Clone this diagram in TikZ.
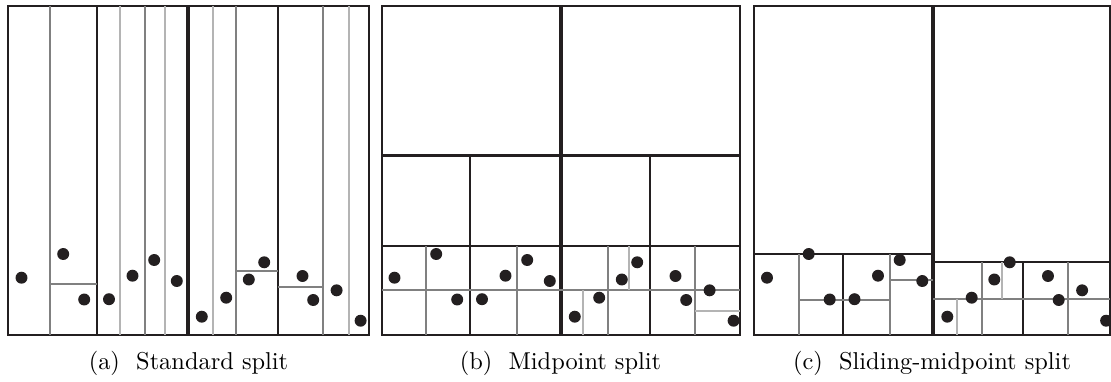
\documentclass[tikz,border=0pt]{standalone}
\usepackage{tikz}
\definecolor{cutblack}{RGB}{35,31,32}
\definecolor{cutgray}{RGB}{128,128,128}
\definecolor{cutlight}{RGB}{180,180,180}
\tikzset{
    cellbox/.style = {draw=cutblack, line width=0.9pt},
    rootcut/.style = {draw=cutblack, line width=1.7pt},
    midcut/.style = {draw=cutblack, line width=1.15pt},
    blackcut/.style = {draw=cutblack, line width=0.9pt},
    graycut/.style = {draw=cutgray, line width=0.85pt},
    lightcut/.style = {draw=cutlight, line width=0.85pt},
    datapt/.style = {fill=cutblack},
    subcap/.style = {anchor=base, inner sep=0pt, font=\normalsize},
}
% the same 15 points go into every panel
\newcommand{\datapoints}{%
  \foreach \px/\py in {21.5/277.7, 63.2/254, 84.2/299.5, 109/299.2, 132.5/275.7,
      154.2/260, 176.8/281, 201.8/316.7, 226.2/297.7, 248.8/279.5,
      264.2/262.3, 302.5/276, 313.2/300, 336.6/290.3, 360.6/320.7}
    \fill[datapt] (\px,\py) circle[radius=2.45pt];
}

\begin{document}
\begin{tikzpicture}[x=0.41pt, y=-0.41pt]
\useasboundingbox (0,0) rectangle (1111,381);
%
% (a) standard split
\draw[cellbox] (8,6) rectangle (369,335);
\draw[rootcut] (187.7,6) -- (187.7,335);
\draw[blackcut] (97.3,6) -- (97.3,335);
\draw[blackcut] (277.7,6) -- (277.7,335);
\foreach \cx in {50,145,236,323.3}
  \draw[graycut] (\cx,6) -- (\cx,335);
\foreach \cx in {120,165,212.7,348.7}
  \draw[lightcut] (\cx,6) -- (\cx,335);
\draw[graycut] (50,284) -- (97.3,284);
\draw[graycut] (236,270.7) -- (277.7,270.7);
\draw[graycut] (277.7,287.3) -- (323.3,287.3);
\datapoints
\node[subcap] (capa) at (188.5,369) {(a)\ \ Standard split};
%
% (b) midpoint split
\draw[cellbox] (382,6) rectangle (740,335);
\draw[rootcut] (561.3,6) -- (561.3,335);
\draw[midcut] (382,155.3) -- (740,155.3);
\draw[blackcut] (470,155.3) -- (470,335);
\draw[blackcut] (650,155.3) -- (650,335);
\draw[blackcut] (382,246) -- (740,246);
\draw[graycut] (382,290) -- (740,290);
\foreach \cx in {425.7,517,607.7,695.3}
  \draw[graycut] (\cx,246) -- (\cx,335);
\draw[lightcut] (583.3,290) -- (583.3,335);
\draw[lightcut] (629,246) -- (629,290);
\draw[lightcut] (695.3,311) -- (740,311);
\begin{scope}[shift={(373,0)}]
  \datapoints
\end{scope}
\node[subcap] (capb) at (560.5,369) {(b)\ \ Midpoint split};
%
% (c) sliding-midpoint split
\draw[cellbox] (754,6) rectangle (1110.3,335);
\draw[rootcut] (933.3,6) -- (933.3,335);
\draw[blackcut] (754,254.3) -- (933.3,254.3);
\draw[blackcut] (933.3,262.3) -- (1110.3,262.3);
\draw[blackcut] (843.3,254.3) -- (843.3,335);
\draw[blackcut] (1023.3,262.3) -- (1023.3,335);
\draw[graycut] (799.3,254.3) -- (799.3,335);
\draw[graycut] (890,254.3) -- (890,335);
\draw[graycut] (799.3,300) -- (890,300);
\draw[graycut] (890,280.3) -- (933.3,280.3);
\draw[graycut] (933.3,299) -- (1110.3,299);
\draw[graycut] (981.7,262.3) -- (981.7,335);
\draw[graycut] (1068.3,262.3) -- (1068.3,335);
\draw[lightcut] (956.7,299) -- (956.7,335);
\draw[lightcut] (1002.3,262.3) -- (1002.3,299);
\begin{scope}[shift={(745.5,0)}]
  \datapoints
\end{scope}
\node[subcap] (capc) at (932,369) {(c)\ \ Sliding-midpoint split};
\end{tikzpicture}
\end{document}
